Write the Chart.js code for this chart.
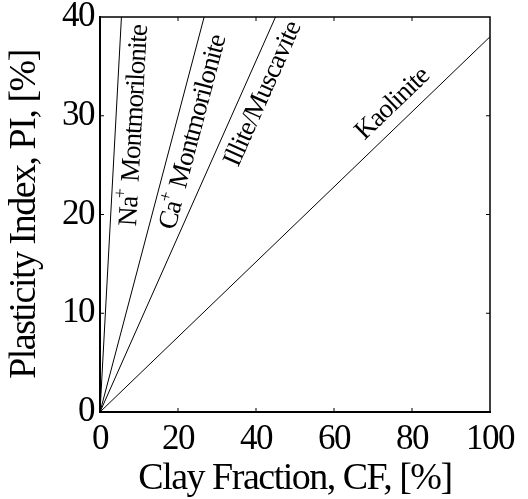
<!DOCTYPE html>
<html>
<head>
<meta charset="utf-8">
<script src="https://cdn.jsdelivr.net/npm/chart.js@4.4.1/dist/chart.umd.min.js"></script>
<style>
  html, body { margin: 0; padding: 0; background: #fff; }
  #wrap { width: 528px; height: 499px; }
</style>
</head>
<body>
<div id="wrap"><canvas id="chart"></canvas></div>
<script>
// each mineral is a straight line from the origin to (endCF, endPI)
const minerals = ['Na+ Montmorilonite', 'Ca+ Montmorilonite', 'Illite/Muscavite', 'Kaolinite']
const endCF = [5.5, 26.7, 45, 100]
const endPI = [40, 40, 40, 38]
const xTicks = [0, 20, 40, 60, 80, 100]
const yTicks = [0, 10, 20, 30, 40]

// where the rotated labels sit: PI value along the line, and baseline offset in px
const labelPlace = [
  { pi: 29.1, off: 26 },
  { pi: 28.8, off: 26 },
  { pi: 33.0, off: 27 },
  { pi: 29.8, off: -12 }
]

const serif = "'Liberation Serif', 'Times New Roman', serif"

const datasets = minerals.map((name, i) => ({
  label: name,
  data: [{ x: 0, y: 0 }, { x: endCF[i], y: endPI[i] }],
  showLine: true,
  borderColor: '#000',
  borderWidth: 1,
  pointRadius: 0,
  fill: false
}))

// condensed look of the original typeface
const spacing = {
  id: 'spacing',
  beforeDraw(chart) {
    chart.ctx.letterSpacing = '-1.5px'
  }
}

const frame = {
  id: 'frame',
  afterDraw(chart) {
    const { ctx, chartArea: a, scales: { x, y } } = chart
    ctx.save()
    ctx.strokeStyle = '#000'
    ctx.lineWidth = 1.5
    ctx.strokeRect(a.left, a.top, a.right - a.left, a.bottom - a.top)
    ctx.lineWidth = 1
    ctx.beginPath()
    xTicks.slice(1, -1).forEach(v => {
      const px = x.getPixelForValue(v)
      ctx.moveTo(px, a.bottom); ctx.lineTo(px, a.bottom - 4)
      ctx.moveTo(px, a.top); ctx.lineTo(px, a.top + 4)
    })
    yTicks.slice(1, -1).forEach(v => {
      const py = y.getPixelForValue(v)
      ctx.moveTo(a.left, py); ctx.lineTo(a.left + 4, py)
      ctx.moveTo(a.right, py); ctx.lineTo(a.right - 4, py)
    })
    ctx.stroke()
    ctx.restore()
  }
}

const lineLabels = {
  id: 'lineLabels',
  afterDatasetsDraw(chart) {
    const { ctx, scales: { x, y } } = chart
    const big = '27px ' + serif
    const small = '18px ' + serif
    minerals.forEach((name, i) => {
      const p = labelPlace[i]
      const cf = p.pi * endCF[i] / endPI[i]
      const x0 = x.getPixelForValue(0), y0 = y.getPixelForValue(0)
      const x1 = x.getPixelForValue(endCF[i]), y1 = y.getPixelForValue(endPI[i])
      const ang = Math.atan2(y1 - y0, x1 - x0)
      const parts = name.split('+')
      ctx.save()
      ctx.letterSpacing = '-1px'
      ctx.fillStyle = '#000'
      ctx.textBaseline = 'alphabetic'
      ctx.textAlign = 'left'
      ctx.translate(x.getPixelForValue(cf), y.getPixelForValue(p.pi))
      ctx.rotate(ang)
      ctx.font = big
      const w0 = ctx.measureText(parts[0]).width
      const w2 = parts.length > 1 ? ctx.measureText(parts[1]).width : 0
      ctx.font = small
      const w1 = parts.length > 1 ? ctx.measureText('+').width : 0
      let cx = -(w0 + w1 + w2) / 2
      ctx.font = big
      ctx.fillText(parts[0], cx, p.off)
      cx += w0
      if (parts.length > 1) {
        ctx.font = small
        ctx.fillText('+', cx - 2, p.off - 12)
        cx += w1
        ctx.font = big
        ctx.fillText(parts[1], cx, p.off)
      }
      ctx.restore()
    })
  }
}

new Chart(document.getElementById('chart'), {
  type: 'scatter',
  data: { datasets },
  plugins: [spacing, lineLabels, frame],
  options: {
    responsive: true,
    maintainAspectRatio: false,
    animation: false,
    layout: { padding: { top: 17, right: 38, left: 0, bottom: 0 } },
    plugins: { legend: { display: false }, tooltip: { enabled: false } },
    scales: {
      x: {
        type: 'linear',
        min: 0,
        max: 100,
        afterBuildTicks: s => { s.ticks = xTicks.map(v => ({ value: v })) },
        afterFit: s => { s.height = 87; s.paddingLeft = 0; s.paddingRight = 0 },
        grid: { display: false, drawTicks: false },
        border: { display: true, color: '#000', width: 2 },
        ticks: { color: '#000', font: { family: serif, size: 35, lineHeight: 1 }, padding: 10, maxRotation: 0, autoSkip: false },
        title: {
          display: true,
          text: 'Clay Fraction, CF, [%]',
          color: '#000',
          font: { family: serif, size: 38, lineHeight: 1 },
          padding: { top: 0, bottom: 1 }
        }
      },
      y: {
        type: 'linear',
        min: 0,
        max: 40,
        afterBuildTicks: s => { s.ticks = yTicks.map(v => ({ value: v })) },
        afterFit: s => { s.width = 100; s.paddingTop = 0; s.paddingBottom = 0 },
        grid: { display: false, drawTicks: false },
        border: { display: true, color: '#000', width: 2 },
        ticks: { color: '#000', font: { family: serif, size: 35, lineHeight: 1 }, padding: 6 },
        title: {
          display: true,
          text: 'Plasticity Index, PI, [%]',
          color: '#000',
          font: { family: serif, size: 38, lineHeight: 1 },
          padding: { top: 6, bottom: 0 }
        }
      }
    }
  }
})
</script>
</body>
</html>
